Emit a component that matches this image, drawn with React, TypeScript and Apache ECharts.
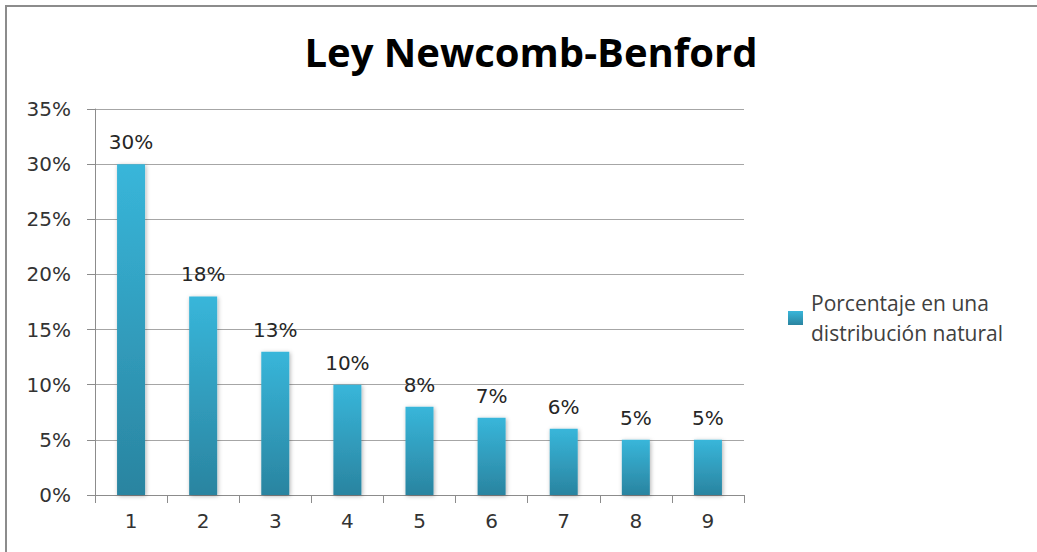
import React, { useEffect, useRef } from "react";
import * as echarts from "echarts";

const categories = ["1", "2", "3", "4", "5", "6", "7", "8", "9"];
const values = [30, 18, 13, 10, 8, 7, 6, 5, 5];
const seriesName = "Porcentaje en una\ndistribución natural";
const titleText = "Ley Newcomb-Benford";

export default function App() {
  const ref = useRef<HTMLDivElement>(null);
  useEffect(() => {
    if (!ref.current) return;
    const chart = echarts.init(ref.current, undefined, { renderer: "svg" });
    chart.setOption({
      animation: false,
      backgroundColor: "#ffffff",
      title: {
        text: titleText,
        left: 526,
        textAlign: "center",
        top: 26,
        textStyle: { fontFamily: "Open Sans", fontWeight: "bold", fontSize: 40, color: "#000000" },
      },
      legend: {
        orient: "vertical",
        left: 788,
        top: 273,
        padding: 0,
        icon: "rect",
        itemWidth: 15,
        itemHeight: 14,
        textStyle: {
          fontFamily: "Open Sans",
          fontSize: 21,
          color: "#404040",
          lineHeight: 30,
          padding: [30, 0, 0, 3],
        },
        data: [seriesName],
      },
      grid: { left: 95, right: 293, top: 109, bottom: 57, containLabel: false },
      xAxis: {
        type: "category",
        data: categories,
        boundaryGap: true,
        axisLine: { show: true, lineStyle: { color: "#8c8c8c", width: 1 } },
        axisTick: { show: true, length: 8, alignWithLabel: false, lineStyle: { color: "#8c8c8c" } },
        axisLabel: { fontFamily: "DejaVu Sans", fontSize: 20, color: "#333333", margin: 16 },
        splitLine: { show: false },
      },
      yAxis: {
        type: "value",
        min: 0,
        max: 35,
        interval: 5,
        axisLine: { show: true, lineStyle: { color: "#8c8c8c", width: 1 } },
        axisTick: { show: true, length: 8, lineStyle: { color: "#8c8c8c" } },
        axisLabel: { fontFamily: "DejaVu Sans", fontSize: 20, color: "#333333", margin: 24, formatter: "{value}%" },
        splitLine: { show: true, lineStyle: { color: "#a6a6a6", width: 1 } },
      },
      series: [
        {
          name: seriesName,
          type: "bar",
          data: values,
          barWidth: 28,
          itemStyle: {
            color: new echarts.graphic.LinearGradient(0, 0, 0, 1, [
              { offset: 0, color: "#38b6da" },
              { offset: 1, color: "#2a84a0" },
            ]),
            shadowBlur: 4,
            shadowColor: "rgba(0,0,0,0.3)",
            shadowOffsetX: 1,
            shadowOffsetY: 1,
          },
          label: {
            show: true,
            position: "top",
            distance: 12,
            formatter: "{c}%",
            fontFamily: "DejaVu Sans",
            fontSize: 20,
            color: "#262626",
          },
        },
      ],
      graphic: [
        {
          type: "rect",
          shape: { x: 6, y: 6, width: 1100, height: 600 },
          style: { fill: "none", stroke: "#8c8c8c", lineWidth: 2 },
          silent: true,
        },
      ],
    });
    return () => chart.dispose();
  }, []);
  return (
    <div
      ref={ref}
      style={{ position: "fixed", left: 0, top: 0, width: 1037, height: 552 }}
    />
  );
}
